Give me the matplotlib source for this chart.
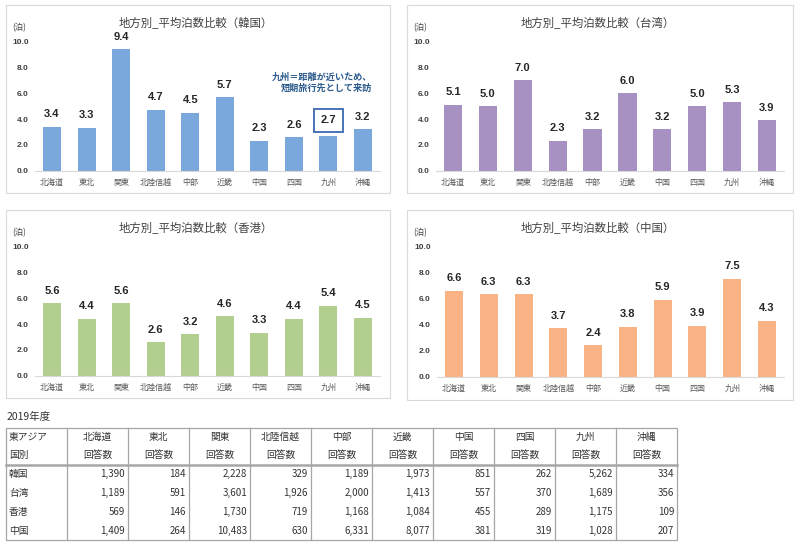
import matplotlib
matplotlib.use('Agg')
import matplotlib.pyplot as plt
from matplotlib.patches import Rectangle
import numpy as np

plt.rcParams['font.family'] = ['Noto Sans CJK JP', 'DejaVu Sans']

# data
regions = ['北海道', '東北', '関東', '北陸信越', '中部', '近畿', '中国', '四国', '九州', '沖縄']
korea = [3.4, 3.3, 9.4, 4.7, 4.5, 5.7, 2.3, 2.6, 2.7, 3.2]
taiwan = [5.1, 5.0, 7.0, 2.3, 3.2, 6.0, 3.2, 5.0, 5.3, 3.9]
hongkong = [5.6, 4.4, 5.6, 2.6, 3.2, 4.6, 3.3, 4.4, 5.4, 4.5]
china = [6.6, 6.3, 6.3, 3.7, 2.4, 3.8, 5.9, 3.9, 7.5, 4.3]

countries = ['韓国', '台湾', '香港', '中国']
answers_korea = [1390, 184, 2228, 329, 1189, 1973, 851, 262, 5262, 334]
answers_taiwan = [1189, 591, 3601, 1926, 2000, 1413, 557, 370, 1689, 356]
answers_hongkong = [569, 146, 1730, 719, 1168, 1084, 455, 289, 1175, 109]
answers_china = [1409, 264, 10483, 630, 6331, 8077, 381, 319, 1028, 207]

W, H = 800, 546
fig = plt.figure(figsize=(8, 5.46), dpi=100)

# background canvas in pixel coords (panel frames + table)
bg = fig.add_axes([0, 0, 1, 1], zorder=-1)
bg.set_xlim(0, W)
bg.set_ylim(H, 0)
bg.axis('off')


def fig_box(x0, y0, x1, y1):
    return [x0 / W, 1 - y1 / H, (x1 - x0) / W, (y1 - y0) / H]


panels = [
    ('韓国', korea, '#7AA7DC', (6, 5, 390, 193), (34.7, 41.7, 380.3, 170.7)),
    ('台湾', taiwan, '#A790C2', (407, 5, 793, 193), (435.6, 41.7, 784.4, 170.7)),
    ('香港', hongkong, '#B3CF90', (6, 210, 390, 398), (34.7, 246.7, 380.3, 375.7)),
    ('中国', china, '#F9B384', (407, 210, 793, 400), (436.6, 246.3, 784.4, 376.5)),
]

for name, vals, col, pbox, abox in panels:
    px0, py0, px1, py1 = pbox
    bg.add_patch(Rectangle((px0, py0), px1 - px0, py1 - py0, fill=False,
                           ec='#D9D9D9', lw=0.8))
    bg.text((px0 + px1) / 2 - 2, py0 + 17, '地方別_平均泊数比較（' + name + '）',
            ha='center', va='center', fontsize=8.2, color='#404040')
    bg.text(px0 + 6, py0 + 23, '(泊)', ha='left', va='center', fontsize=6, color='#404040')

    ax = fig.add_axes(fig_box(*abox))
    x = np.arange(len(regions))
    ax.bar(x, vals, width=0.52, color=col)
    ax.set_xlim(-0.5, len(regions) - 0.5)
    ax.set_ylim(0, 10)
    ax.set_yticks(np.arange(0, 10.1, 2))
    ax.set_yticklabels([f'{v:.1f}' for v in np.arange(0, 10.1, 2)],
                       fontsize=6, fontweight='bold', color='#404040',
                       family='Liberation Sans')
    ax.set_xticks(x)
    ax.set_xticklabels(regions, fontsize=5.8, color='#595959')
    ax.tick_params(axis='both', length=0)
    ax.tick_params(axis='x', pad=5.3)
    ax.tick_params(axis='y', pad=4.3)
    for s in ['left', 'right', 'top']:
        ax.spines[s].set_visible(False)
    ax.spines['bottom'].set_color('#D9D9D9')
    ax.patch.set_alpha(0)

    for i, v in enumerate(vals):
        box = None
        if name == '韓国' and regions[i] == '九州':
            box = dict(boxstyle='square,pad=0.6', fc='white', ec='#4A74B8', lw=1.4)
        ax.annotate(f'{v:.1f}', (i, v), xytext=(0, 5.5 if box is None else 7.5),
                    textcoords='offset points', ha='center', va='bottom',
                    fontsize=8, fontweight='bold', color='#262626',
                    family='Liberation Sans', bbox=box)

    if name == '韓国':
        ax.text(9.27, 6.84, '九州＝距離が近いため、\n短期旅行先として来訪',
                ha='right', va='center', fontsize=6.6, fontweight='bold',
                color='#2B5A8C', linespacing=1.25)

# table
bg.text(7, 417, '2019年度', ha='left', va='center', fontsize=7.5, color='#333333')
edges = np.linspace(6, 677, 12)
top, head_bot, bottom = 428, 465, 540
line_c = '#A6A6A6'
bg.add_patch(Rectangle((edges[0], top), edges[-1] - edges[0], bottom - top,
                       fill=False, ec=line_c, lw=0.9))
for e in edges[1:-1]:
    bg.plot([e, e], [top, bottom], color=line_c, lw=0.9)
bg.plot([edges[0], edges[-1]], [head_bot, head_bot], color=line_c, lw=1.8)

bg.text(edges[0] + 3, 437, '東アジア', ha='left', va='center', fontsize=7, color='#333333')
bg.text(edges[0] + 3, 455, '国別', ha='left', va='center', fontsize=7, color='#333333')
for j, r in enumerate(regions):
    cx = (edges[j + 1] + edges[j + 2]) / 2
    bg.text(cx, 437, r, ha='center', va='center', fontsize=7, color='#333333')
    bg.text(cx, 455, '回答数', ha='center', va='center', fontsize=7, color='#333333')

rows = [answers_korea, answers_taiwan, answers_hongkong, answers_china]
row_h = (bottom - head_bot) / len(rows)
for k, (c, row) in enumerate(zip(countries, rows)):
    y = head_bot + row_h * (k + 0.5)
    bg.text(edges[0] + 3, y, c, ha='left', va='center', fontsize=7, color='#333333')
    for j, n in enumerate(row):
        bg.text(edges[j + 2] - 3, y, f'{n:,}', ha='right', va='center',
                fontsize=7, color='#333333')

fig.savefig('out.png', dpi=100)
